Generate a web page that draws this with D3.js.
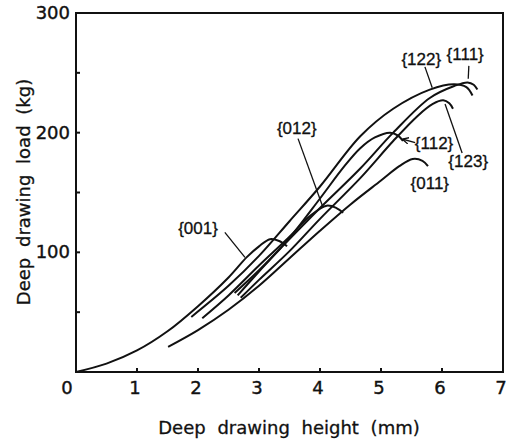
<!DOCTYPE html>
<html>
<head>
<meta charset="utf-8">
<script src="https://cdn.jsdelivr.net/npm/d3@7"></script>
<style>
  body { margin: 0; background: #fff; }
  svg text { fill: #111; }
</style>
</head>
<body>
<script>
// curves: [height mm, load kg]
var c001 = [[0,0],[0.5,7],[1.0,18],[1.5,34],[2.0,55],[2.5,79],[2.8,96],[3.0,105],[3.18,111],[3.33,109.5],[3.46,105]];
var c122 = [[1.89,46],[2.5,72],[3.0,97],[3.5,126],[4.0,155],[4.66,197],[5.2,220],[5.8,236],[6.2,240.5],[6.4,238],[6.5,231]];
var c012 = [[2.07,45],[2.5,64],[3.0,89],[3.5,113],[3.85,131],[4.11,139],[4.27,137],[4.38,133]];
var c011 = [[1.51,21],[2,35],[2.5,52],[3,72],[3.5,95],[4,118],[4.5,140],[5,160],[5.3,172],[5.52,178],[5.68,176.5],[5.77,172]];
var c112 = [[2.65,64],[3.0,84],[3.5,112],[4.0,145],[4.4,172],[4.66,187],[4.9,196],[5.15,200],[5.28,197.5],[5.36,193]];
var c123 = [[2.7,62],[3.0,77],[3.5,101],[4.0,128],[4.66,162],[5.2,193],[5.6,214],[5.85,224],[6.02,227],[6.12,224.5],[6.18,220]];
var c111 = [[2.6,66],[3.0,85],[3.5,111],[4.0,137],[4.66,170],[5.2,200],[5.8,229],[6.2,239],[6.42,242],[6.52,240],[6.58,236]];
var curves = [c001, c122, c012, c011, c112, c123, c111];

var xTicks = [0, 1, 2, 3, 4, 5, 6, 7];
var yTicks = [100, 200, 300];
var yMinor = [50, 100, 150, 200, 250];
var xMinor = [1, 2, 3, 4, 5, 6];

// labels: text, text position, leader from / to (data units)
var labelText = ["{001}", "{012}", "{112}", "{123}", "{011}", "{122}", "{111}"];
var labelPos = [[2.0,120],[3.62,204],[5.87,191.7],[6.43,176.7],[5.8,158],[5.66,261.7],[6.38,265.8]];
var leaders = [
  [[2.44,116.7],[2.77,95.8]],
  [[3.64,195],[4.05,137.5]],
  [[5.56,191.7],[5.36,194.5]],
  [[6.33,183],[6.05,224]],
  null,
  [[5.72,255],[5.84,237.5]],
  [[6.44,255.8],[6.43,245]]
];

var W = 507, H = 441;
var pLeft = 76, pRight = 503, pTop = 13, pBottom = 372;

var svg = d3.select("body").append("svg")
  .attr("width", W)
  .attr("height", H);

svg.append("defs").append("marker")
  .attr("id", "arr")
  .attr("viewBox", "0 0 10 10")
  .attr("refX", 9).attr("refY", 5)
  .attr("markerWidth", 5).attr("markerHeight", 5)
  .attr("orient", "auto")
  .append("path")
  .attr("d", "M0,0L10,5L0,10")
  .attr("fill", "none").attr("stroke", "#111").attr("stroke-width", 2);

var x = d3.scaleLinear().domain([0, 7]).range([pLeft, pRight]);
var y = d3.scaleLinear().domain([0, 300]).range([pBottom, pTop]);

// frame
svg.append("rect")
  .attr("x", pLeft).attr("y", pTop)
  .attr("width", pRight - pLeft).attr("height", pBottom - pTop)
  .attr("fill", "none").attr("stroke", "#111").attr("stroke-width", 2);

// inward ticks
svg.selectAll(".ytick").data(yMinor).enter().append("line")
  .attr("x1", pLeft).attr("x2", pLeft + 4)
  .attr("y1", function(d) { return y(d); })
  .attr("y2", function(d) { return y(d); })
  .attr("stroke", "#111").attr("stroke-width", 2);

svg.selectAll(".xtick").data(xMinor).enter().append("line")
  .attr("x1", function(d) { return x(d); })
  .attr("x2", function(d) { return x(d); })
  .attr("y1", pBottom).attr("y2", pBottom - 4)
  .attr("stroke", "#111").attr("stroke-width", 2);

// tick labels
svg.selectAll(".xlab").data(xTicks).enter().append("text")
  .attr("x", function(d) { return d === 0 ? x(d) - 9 : x(d) - 2; })
  .attr("y", pBottom + 22)
  .attr("text-anchor", "middle")
  .style("font", "18px 'DejaVu Sans', sans-serif")
  .style("stroke", "#111").style("stroke-width", 0.4)
  .text(function(d) { return d; });

svg.selectAll(".ylab").data(yTicks).enter().append("text")
  .attr("x", pLeft - 6)
  .attr("y", function(d) { return y(d) + 6; })
  .attr("text-anchor", "end")
  .style("font", "18px 'DejaVu Sans', sans-serif")
  .style("stroke", "#111").style("stroke-width", 0.4)
  .text(function(d) { return d; });

// axis titles
svg.append("text")
  .attr("x", 289).attr("y", 434)
  .attr("text-anchor", "middle")
  .style("font", "18px 'DejaVu Sans', sans-serif")
  .style("word-spacing", "6px")
  .style("stroke", "#111").style("stroke-width", 0.3)
  .text("Deep drawing height (mm)");

svg.append("text")
  .attr("transform", "translate(30,192) rotate(-90)")
  .attr("text-anchor", "middle")
  .style("font", "18px 'DejaVu Sans', sans-serif")
  .style("word-spacing", "5px")
  .style("stroke", "#111").style("stroke-width", 0.3)
  .text("Deep drawing load (kg)");

// curves
var line = d3.line()
  .x(function(d) { return x(d[0]); })
  .y(function(d) { return y(d[1]); })
  .curve(d3.curveCatmullRom.alpha(0.5));

svg.selectAll(".curve").data(curves).enter().append("path")
  .attr("d", line)
  .attr("fill", "none")
  .attr("stroke", "#111")
  .attr("stroke-width", 2);

// leaders
leaders.forEach(function(l, i) {
  if (!l) return;
  var ln = svg.append("line")
    .attr("x1", x(l[0][0])).attr("y1", y(l[0][1]))
    .attr("x2", x(l[1][0])).attr("y2", y(l[1][1]))
    .attr("stroke", "#111").attr("stroke-width", 1.3);
  if (labelText[i] === "{112}") ln.attr("marker-end", "url(#arr)");
});

// labels
svg.selectAll(".lab").data(labelText).enter().append("text")
  .attr("x", function(d, i) { return x(labelPos[i][0]); })
  .attr("y", function(d, i) { return y(labelPos[i][1]) + 6; })
  .attr("text-anchor", "middle")
  .style("font", "17px 'Liberation Sans', sans-serif")
  .style("stroke", "#111").style("stroke-width", 0.3)
  .text(function(d) { return d; });
</script>
</body>
</html>
